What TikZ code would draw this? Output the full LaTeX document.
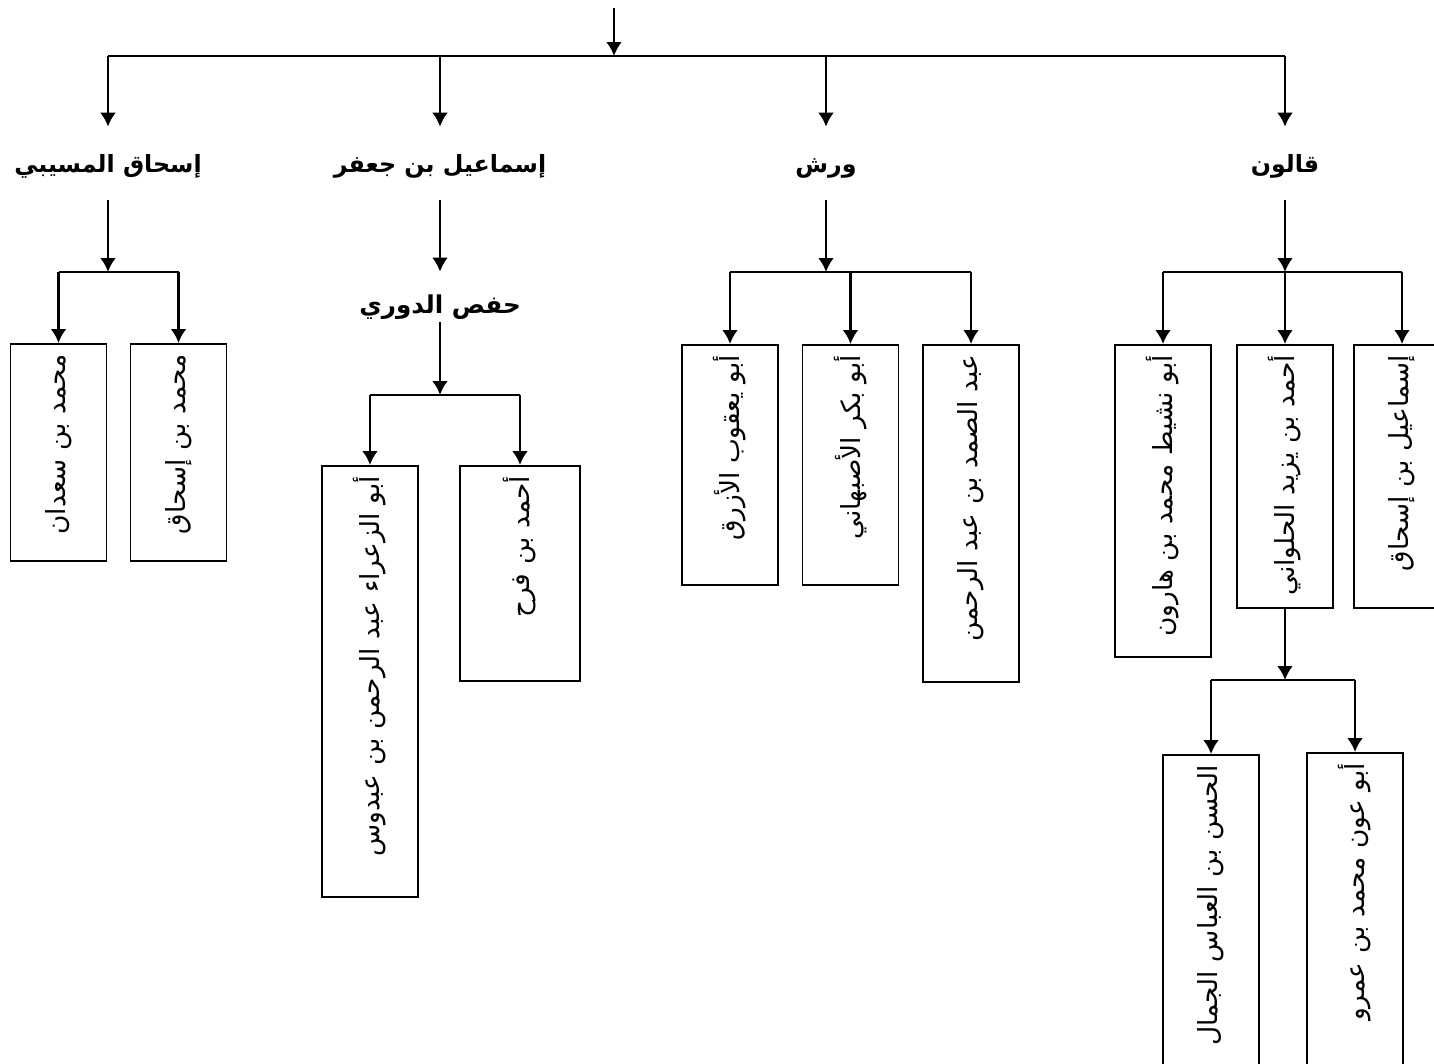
\documentclass[tikz,border=0pt]{standalone}
\usepackage{fontspec}
\usetikzlibrary{arrows.meta}
\newfontfamily\arabicfont[Script=Arabic]{DejaVu Sans}
\TeXXeTstate=1

\begin{document}
\begin{tikzpicture}[x=0.02cm,y=-0.02cm]
      \tikzset{>={Latex[length=2.8mm,width=3.2mm]}}
      \tikzset{
        namebox/.style={draw=black,line width=1.1pt,rotate=90,text width=#1,align=right,
          minimum height=1.92cm,inner xsep=0.2cm,inner ysep=0pt,
          font=\arabicfont\fontsize{15}{18}\selectfont},
        grplabel/.style={inner sep=0pt,anchor=base,text height=0.9cm,text depth=0.56cm,
          font=\arabicfont\bfseries\fontsize{13.5}{16}\selectfont},
        link/.style={line width=1.6pt}
      }
      \clip (0,0) rectangle (1434,1063);
      \fill[white] (0,0) rectangle (1434,1063);

      % readers
      \node[grplabel] (ishaq) at (108,172) {\beginR إسحاق المسيبي\endR};
      \node[grplabel] (ismail) at (440,172) {\beginR إسماعيل بن جعفر\endR};
      \node[grplabel] (warsh) at (826,172) {\beginR ورش\endR};
      \node[grplabel] (qalun) at (1285,172) {\beginR قالون\endR};
      \node[grplabel,text height=0.82cm,text depth=0.18cm,font=\arabicfont\bfseries\fontsize{14}{17}\selectfont] (hafs) at (440,313) {\beginR حفص الدوري\endR};

      % narrators
      \node[namebox=3.94cm,anchor=east] (sadan) at (58.5,343) {\beginR محمد بن سعدان\endR};
      \node[namebox=3.94cm,anchor=east] (mishaq) at (178.5,343) {\beginR محمد بن إسحاق\endR};
      \node[namebox=8.22cm,anchor=east] (zahra) at (370,465) {\beginR أبو الزعراء عبد الرحمن بن عبدوس\endR};
      \node[namebox=3.9cm,minimum height=2.4cm,anchor=east] (farh) at (520,465) {\beginR أحمد بن فرح\endR};
      \node[namebox=4.4cm,anchor=east] (azraq) at (730,344) {\beginR أبو يعقوب الأزرق\endR};
      \node[namebox=4.4cm,anchor=east] (asbah) at (850.5,344) {\beginR أبو بكر الأصبهاني\endR};
      \node[namebox=6.34cm,anchor=east] (samad) at (971,344) {\beginR عبد الصمد بن عبد الرحمن\endR};
      \node[namebox=5.84cm,anchor=east] (nashit) at (1163,344) {\beginR أبو نشيط محمد بن هارون\endR};
      \node[namebox=4.86cm,anchor=east] (halw) at (1285,344) {\beginR أحمد بن يزيد الحلواني\endR};
      \node[namebox=4.86cm,anchor=east] (ismi) at (1402,344) {\beginR إسماعيل بن إسحاق\endR};
      \node[namebox=6.12cm,anchor=east] (hasan) at (1211,754) {\beginR الحسن بن العباس الجمال\endR};
      \node[namebox=6.16cm,anchor=east] (awn) at (1355,752) {\beginR أبو عون محمد بن عمرو\endR};

      \coordinate (src) at (614,8);
      \coordinate (root) at (614,56);
      \coordinate (jishaq) at (108,272);
      \coordinate (jwarsh) at (826,272);
      \coordinate (jqalun) at (1285,272);
      \coordinate (jhafs) at (440,395);
      \coordinate (jhalw) at (1285,680);

      \draw [link,->] (src) -- (root);
      \draw [link] (root -| ishaq) -- (root -| qalun);
      \foreach \g in {ishaq,ismail,warsh,qalun}
        \draw [link,->] (root -| \g) -- (\g.north);

      \draw [link,->] (ishaq) -- (jishaq);
      \draw [link] (jishaq -| sadan) -- (jishaq -| mishaq);
      \foreach \b in {sadan,mishaq}
        \draw [link,->] (jishaq -| \b) -- (\b.east);

      \draw [link,->] (ismail) -- (hafs);
      \draw [link,->] (hafs) -- (jhafs);
      \draw [link] (jhafs -| zahra) -- (jhafs -| farh);
      \foreach \b in {zahra,farh}
        \draw [link,->] (jhafs -| \b) -- (\b.east);

      \draw [link,->] (warsh) -- (jwarsh);
      \draw [link] (jwarsh -| azraq) -- (jwarsh -| samad);
      \foreach \b in {azraq,asbah,samad}
        \draw [link,->] (jwarsh -| \b) -- (\b.east);

      \draw [link,->] (qalun) -- (jqalun);
      \draw [link] (jqalun -| nashit) -- (jqalun -| ismi);
      \foreach \b in {nashit,halw,ismi}
        \draw [link,->] (jqalun -| \b) -- (\b.east);

      \draw [link,->] (halw.west) -- (jhalw);
      \draw [link] (jhalw -| hasan) -- (jhalw -| awn);
      \foreach \b in {hasan,awn}
        \draw [link,->] (jhalw -| \b) -- (\b.east);
    \end{tikzpicture}
\end{document}
